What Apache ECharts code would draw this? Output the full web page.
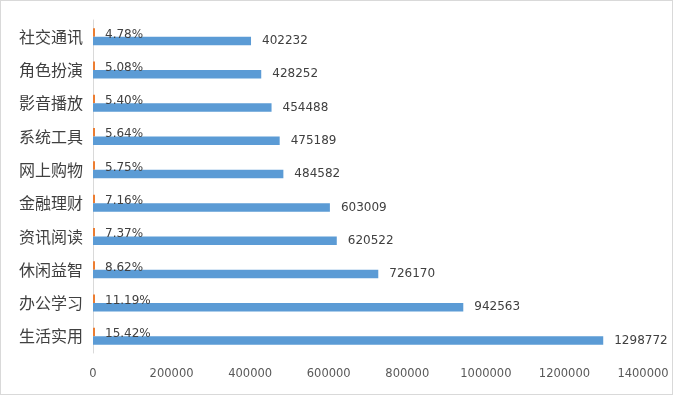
<!DOCTYPE html>
<html><head><meta charset="utf-8">
<script src="https://cdn.jsdelivr.net/npm/echarts@6/dist/echarts.min.js"></script>
<style>html,body{margin:0;padding:0;background:#fff}#c{width:673px;height:395px;box-sizing:border-box;border:1px solid #d9d9d9}</style>
</head><body><div id="c"></div>
<script>
const categories = ['生活实用','办公学习','休闲益智','资讯阅读','金融理财','网上购物','系统工具','影音播放','角色扮演','社交通讯'];
const downloads = [1298772,942563,726170,620522,603009,484582,475189,454488,428252,402232];
const shares = [15.42,11.19,8.62,7.37,7.16,5.75,5.64,5.40,5.08,4.78];
const xTicks = [0,200000,400000,600000,800000,1000000,1200000,1400000];

const chart = echarts.init(document.getElementById('c'));
chart.setOption({
  animation:false,
  grid:{left:92,right:29,top:19,bottom:41,containLabel:false},
  xAxis:{type:'value',min:xTicks[0],max:xTicks[xTicks.length-1],interval:200000,
    axisLine:{show:false},axisTick:{show:false},splitLine:{show:false},
    axisLabel:{color:'#595959',fontSize:11.5,fontFamily:'DejaVu Sans',margin:15,formatter:v=>String(v)}},
  yAxis:{type:'category',data:categories,
    axisLine:{show:true,lineStyle:{color:'#d9d9d9',width:1}},axisTick:{show:false},
    axisLabel:{color:'#404040',fontSize:16,fontFamily:'Noto Sans CJK SC',margin:10}},
  series:[
    {name:'占比',type:'bar',data:shares,barMinHeight:2,barGap:'0%',barWidth:8.5,
     itemStyle:{color:'#ED7D31'},
     label:{show:true,position:'right',distance:10,offset:[0,2],color:'#404040',fontSize:12,fontFamily:'DejaVu Sans',
       formatter:p=>p.value.toFixed(2)+'%'}},
    {name:'下载量',type:'bar',data:downloads,barGap:'0%',barWidth:8.5,
     itemStyle:{color:'#5B9BD5'},
     label:{show:true,position:'right',distance:11,color:'#404040',fontSize:12,fontFamily:'DejaVu Sans'}}
  ]
});
</script></body></html>
